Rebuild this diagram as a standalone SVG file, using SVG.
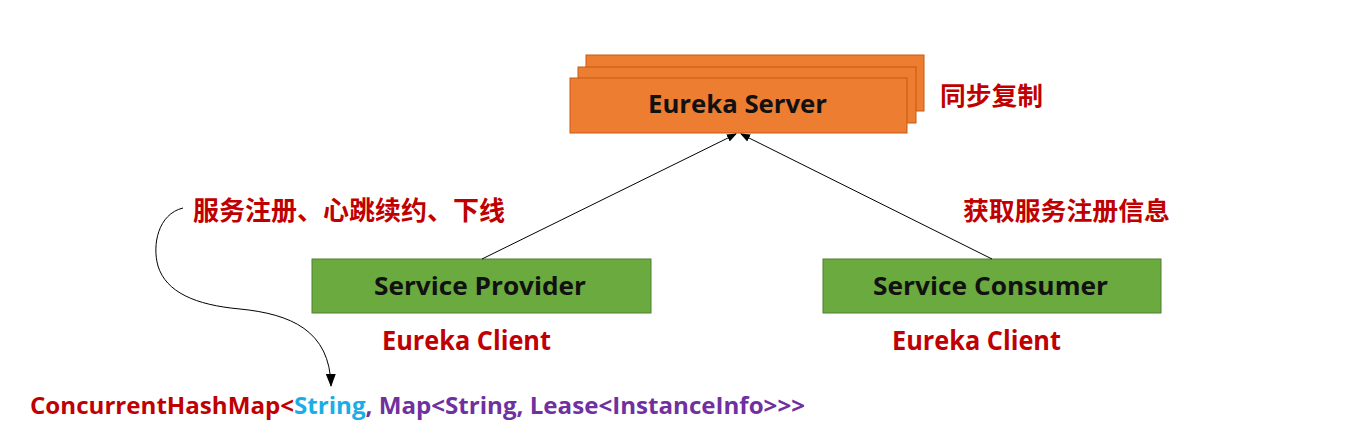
<svg xmlns="http://www.w3.org/2000/svg" width="1360" height="446" viewBox="0 0 1360 446">
<defs>
<style>
.lat{font-family:"Open Sans","Noto Sans","Liberation Sans",sans-serif;font-weight:bold;}
.cjk{font-family:"Noto Sans CJK SC","Noto Sans",sans-serif;font-weight:bold;fill:#C00000;}
.srv{fill:#ED7D31;stroke:#C55A11;stroke-width:1;}
.cli{fill:#6AAA3F;stroke:#507E32;stroke-width:1;}
.red{fill:#C00000;}
.lbl{fill:#111;}
.conn{stroke:#000;stroke-width:1;fill:none;}
</style>
<marker id="ah" markerWidth="10" markerHeight="10" refX="9" refY="5" orient="auto" markerUnits="userSpaceOnUse">
<path d="M0,1 L10,5 L0,9 Z" fill="#000"/>
</marker>
<marker id="ah2" markerWidth="14" markerHeight="12" refX="12" refY="6" orient="auto" markerUnits="userSpaceOnUse">
<path d="M0,1 L13,6 L0,11 Z" fill="#000"/>
</marker>
</defs>
<rect width="1360" height="446" fill="#fff"/>
<g id="eureka-server">
<rect class="srv" x="586" y="55" width="338" height="56"/>
<rect class="srv" x="578" y="67" width="338" height="56"/>
<rect class="srv" x="570" y="78" width="337" height="55"/>
<text class="lat lbl" x="648" y="113" font-size="25" textLength="179" lengthAdjust="spacingAndGlyphs">Eureka Server</text>
</g>
<g id="sync-label">
<text class="cjk" x="940" y="105" font-size="25" textLength="103" lengthAdjust="spacingAndGlyphs">同步复制</text>
</g>
<g id="service-provider">
<rect class="cli" x="312" y="259" width="339" height="54"/>
<text class="lat lbl" x="374" y="295" font-size="25" textLength="212" lengthAdjust="spacingAndGlyphs">Service Provider</text>
<text class="lat red" x="382" y="350" font-size="26" textLength="169" lengthAdjust="spacingAndGlyphs">Eureka Client</text>
</g>
<g id="service-consumer">
<rect class="cli" x="823" y="259" width="338" height="54"/>
<text class="lat lbl" x="873" y="295" font-size="25" textLength="235" lengthAdjust="spacingAndGlyphs">Service Consumer</text>
<text class="lat red" x="892" y="350" font-size="26" textLength="169" lengthAdjust="spacingAndGlyphs">Eureka Client</text>
</g>
<g id="register-label">
<text class="cjk" x="193" y="220" font-size="26" textLength="312" lengthAdjust="spacingAndGlyphs">服务注册、心跳续约、下线</text>
</g>
<g id="fetch-label">
<text class="cjk" x="963" y="220" font-size="25" textLength="207" lengthAdjust="spacingAndGlyphs">获取服务注册信息</text>
</g>
<g id="registry-map">
<text class="lat" x="30" y="414" font-size="23" textLength="775" lengthAdjust="spacingAndGlyphs"><tspan fill="#C00000">ConcurrentHashMap&lt;</tspan><tspan fill="#1AADE6">String</tspan><tspan fill="#7030A0">, Map&lt;String, Lease&lt;InstanceInfo&gt;&gt;&gt;</tspan></text>
</g>
<g id="connectors">
<line class="conn" x1="482" y1="259" x2="736" y2="134" marker-end="url(#ah)"/>
<line class="conn" x1="992" y1="259" x2="741" y2="134" marker-end="url(#ah)"/>
<path class="conn" stroke-width="1.8" d="M183,208 C158,214 152,245 158,266 C166,292 195,305 240,309 C290,314 330,330 331,386" marker-end="url(#ah2)"/>
</g>
</svg>
